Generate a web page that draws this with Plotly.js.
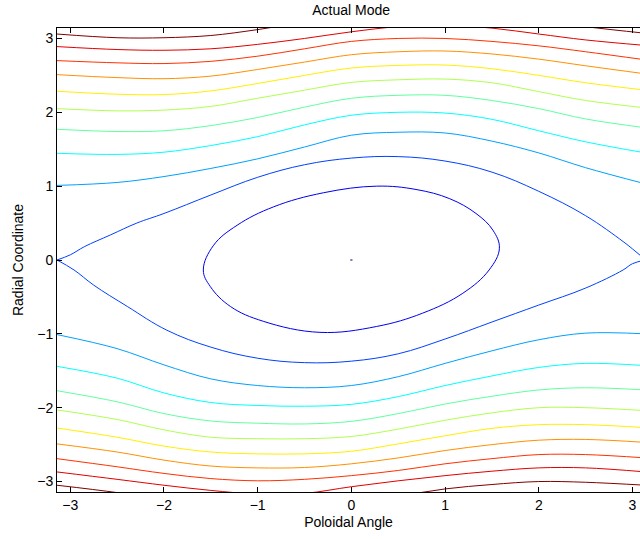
<!DOCTYPE html>
<html>
<head>
<meta charset="utf-8">
<script src="https://cdn.plot.ly/plotly-3.0.1.min.js"></script>
<style>html,body{margin:0;padding:0;background:#fff;}#chart{width:640px;height:539px;}</style>
</head>
<body>
<div id="chart"></div>
<script>
// ---- data (contour lines of the "Actual Mode") ----
const PI = 3.1416;
const gridX = [-3.1416, -2.5, -2, -1.5, -1, -0.5, 0, 0.5, 1, 1.5, 2, 2.5, 3.1416];

// open (passing) contours, upper branch and lower branch, outer level first
const level11Top = [3.06, 3.01, 3.01, 3.04, 3.12, 3.22, 3.30, 3.35, 3.36, 3.33, 3.25, 3.16, 3.07];
const level11Bot = [-3.05, -3.15, -3.25, -3.32, -3.36, -3.35, -3.30, -3.20, -3.10, -3.04, -3.00, -3.01, -3.05];
const level10Top = [2.89, 2.85, 2.84, 2.86, 2.92, 3.00, 3.09, 3.16, 3.18, 3.14, 3.06, 2.98, 2.905];
const level10Bot = [-2.87, -2.97, -3.05, -3.12, -3.17, -3.16, -3.07, -2.99, -2.92, -2.86, -2.815, -2.815, -2.87];
const level9Top = [2.70, 2.67, 2.66, 2.69, 2.76, 2.86, 2.96, 3.00, 3.00, 2.96, 2.90, 2.82, 2.71];
const level9Bot = [-2.69, -2.80, -2.89, -2.96, -2.99, -2.97, -2.92, -2.85, -2.76, -2.69, -2.635, -2.635, -2.68];
const level8Top = [2.51, 2.47, 2.455, 2.49, 2.58, 2.68, 2.78, 2.82, 2.83, 2.79, 2.72, 2.63, 2.52];
const level8Bot = [-2.49, -2.60, -2.71, -2.79, -2.815, -2.81, -2.76, -2.68, -2.58, -2.50, -2.44, -2.43, -2.47];
const level7Top = [2.285, 2.245, 2.24, 2.29, 2.39, 2.50, 2.60, 2.635, 2.64, 2.59, 2.50, 2.40, 2.30];
const level7Bot = [-2.275, -2.40, -2.52, -2.60, -2.625, -2.625, -2.59, -2.49, -2.38, -2.28, -2.23, -2.23, -2.27];
const level6Top = [2.05, 2.02, 2.03, 2.08, 2.19, 2.30, 2.405, 2.44, 2.45, 2.40, 2.28, 2.16, 2.06];
const level6Bot = [-2.03, -2.16, -2.30, -2.40, -2.42, -2.42, -2.39, -2.29, -2.17, -2.07, -2.00, -2.00, -2.04];
const level5Top = [1.77, 1.74, 1.75, 1.82, 1.93, 2.07, 2.19, 2.23, 2.23, 2.16, 2.05, 1.91, 1.79];
const level5Bot = [-1.77, -1.92, -2.08, -2.18, -2.21, -2.22, -2.185, -2.08, -1.95, -1.845, -1.76, -1.73, -1.76];
const level4Top = [1.445, 1.43, 1.46, 1.55, 1.67, 1.83, 1.96, 2.00, 1.99, 1.905, 1.75, 1.60, 1.45];
const level4Bot = [-1.44, -1.60, -1.80, -1.93, -1.97, -1.98, -1.955, -1.85, -1.70, -1.57, -1.455, -1.40, -1.43];
const level3Top = [1.01, 1.05, 1.13, 1.24, 1.37, 1.53, 1.69, 1.73, 1.72, 1.61, 1.45, 1.25, 1.03];
const level3Bot = [-1.01, -1.20, -1.42, -1.61, -1.70, -1.73, -1.70, -1.58, -1.40, -1.23, -1.08, -0.99, -1.00];

// separatrix
const sepTopX = [-3.1416, -3.0, -2.85, -2.57, -2.29, -2.0, -1.5, -1.0, -0.5, 0, 0.5, 1.0, 1.5, 2.0, 2.5, 2.9, 3.0, 3.1416];
const sepTopY = [0, 0.07, 0.18, 0.34, 0.50, 0.63, 0.88, 1.12, 1.29, 1.38, 1.40, 1.34, 1.19, 0.93, 0.60, 0.25, 0.15, 0];
const sepBotX = [-3.1416, -2.96, -2.75, -2.39, -1.97, -1.5, -1.0, -0.5, 0, 0.5, 1.0, 1.5, 2.0, 2.5, 2.9, 3.0, 3.1416];
const sepBotY = [0, -0.135, -0.34, -0.63, -0.95, -1.18, -1.33, -1.39, -1.37, -1.27, -1.07, -0.84, -0.61, -0.38, -0.135, -0.05, 0];

// closed island contour
const ellipseX = [0.27, 0.69, 1.05, 1.33, 1.51, 1.58, 1.47, 1.19, 0.76, 0.27, -0.335, -0.94, -1.29, -1.505, -1.58, -1.47, -1.22, -0.83, -0.30, 0.27];
const ellipseY = [1.00, 0.955, 0.83, 0.63, 0.405, 0.16, -0.135, -0.45, -0.72, -0.90, -0.98, -0.83, -0.63, -0.36, -0.135, 0.20, 0.47, 0.72, 0.91, 1.00];

// innermost (tiny) contour at the O-point
const centerX = [-0.012, 0.012];
const centerY = [0, 0];

const tickVals = [-3, -2, -1, 0, 1, 2, 3];

// ---- styles: MATLAB jet colours for the 12 levels ----
const jet12 = ['#000090', '#0000ef', '#0040ff', '#00a0ff', '#00ffff', '#60ffa0',
               '#b0ff50', '#ffef00', '#ff9000', '#ff3000', '#e00000', '#800000'];

function openLevel(top, bot, color) {
  return {
    type: 'scatter', mode: 'lines',
    x: gridX.concat([null], gridX),
    y: top.concat([null], bot),
    line: {color: color, width: 1, shape: 'spline', smoothing: 1},
    connectgaps: false, hoverinfo: 'skip', showlegend: false
  };
}

const traces = [
  {type: 'scatter', mode: 'lines', x: centerX, y: centerY, line: {color: jet12[0], width: 1}, hoverinfo: 'skip', showlegend: false},
  {type: 'scatter', mode: 'lines', x: ellipseX, y: ellipseY, line: {color: jet12[1], width: 1, shape: 'spline', smoothing: 1.1}, hoverinfo: 'skip', showlegend: false},
  {type: 'scatter', mode: 'lines', x: sepTopX.concat([null], sepBotX), y: sepTopY.concat([null], sepBotY),
   line: {color: jet12[2], width: 1, shape: 'spline', smoothing: 1.1}, connectgaps: false, hoverinfo: 'skip', showlegend: false},
  openLevel(level3Top, level3Bot, jet12[3]),
  openLevel(level4Top, level4Bot, jet12[4]),
  openLevel(level5Top, level5Bot, jet12[5]),
  openLevel(level6Top, level6Bot, jet12[6]),
  openLevel(level7Top, level7Bot, jet12[7]),
  openLevel(level8Top, level8Bot, jet12[8]),
  openLevel(level9Top, level9Bot, jet12[9]),
  openLevel(level10Top, level10Bot, jet12[10]),
  openLevel(level11Top, level11Bot, jet12[11])
];

const font = {family: '"Liberation Sans", Arial, Helvetica, sans-serif', color: '#000', size: 14};

const layout = {
  width: 640, height: 539,
  margin: {l: 57, r: 0, t: 28, b: 47, pad: 0},
  paper_bgcolor: '#fff', plot_bgcolor: '#fff',
  font: font,
  showlegend: false,
  title: {text: 'Actual Mode', font: {family: font.family, size: 14, color: '#000'},
          x: 0.5046, xref: 'paper', xanchor: 'center', y: 1 - 10 / 539, yref: 'container', yanchor: 'middle'},
  xaxis: {
    range: [-PI, -PI + 583 / 93.7], tickvals: tickVals, ticks: 'inside', ticklen: 5, tickcolor: '#000',
    showline: true, linecolor: '#000', linewidth: 1, mirror: 'ticks',
    showgrid: false, zeroline: false, tickfont: {size: 14},
    title: {text: 'Poloidal Angle', font: {size: 14}, standoff: 5}, automargin: false
  },
  yaxis: {
    range: [-PI, PI], tickvals: tickVals, ticks: 'inside', ticklen: 5, tickcolor: '#000',
    showline: true, linecolor: '#000', linewidth: 1, mirror: false,
    showgrid: false, zeroline: false, tickfont: {size: 14},
    title: {text: 'Radial Coordinate', font: {size: 14}, standoff: 10}, automargin: false
  }
};

Plotly.newPlot('chart', traces, layout, {displayModeBar: false, staticPlot: true});
</script>
</body>
</html>
